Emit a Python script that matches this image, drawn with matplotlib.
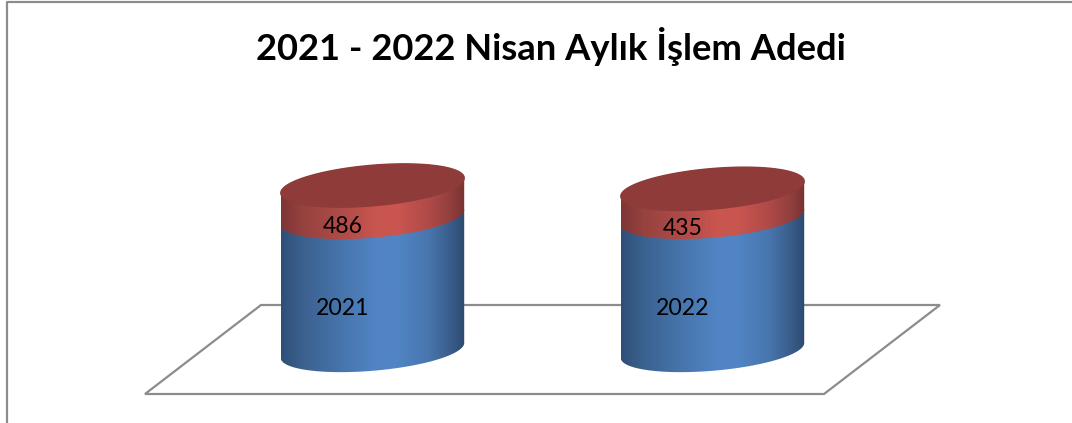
"""2021 - 2022 Nisan aylik islem adedi, silindir grafik."""

import matplotlib

matplotlib.use("Agg")
import matplotlib.pyplot as plt
import numpy as np
from matplotlib.colors import LinearSegmentedColormap
from matplotlib.patches import Polygon

title = "2021 - 2022 Nisan Aylık İşlem Adedi"
years = ["2021", "2022"]
year_values = [2021, 2022]
islem_values = [486, 435]

W, H = 1072, 423
# eksen: x kategori sirasi, y yigilmis deger (taban y=0)
PX_X = 340.0
PX_Y = 165.0 / 2507
X0 = 372.5
Y_BASE = 350.5
RX = 91.7 / PX_X
RY = 20.3 / PX_Y
SKEW = 7.5 / PX_Y

stops = [0.0, 0.12, 0.35, 0.52, 0.64, 0.8, 0.92, 1.0]
blue_cm = LinearSegmentedColormap.from_list(
    "blue", list(zip(stops, ["#2f4f78", "#3b618f", "#4877b0", "#5184c4", "#5184c4", "#4877af", "#3a5e8c", "#2c4a70"]))
)
red_cm = LinearSegmentedColormap.from_list(
    "red", list(zip(stops, ["#7e3635", "#96423f", "#b24c49", "#c9554f", "#c9554f", "#b04b48", "#93403e", "#773231"]))
)

fig = plt.figure(figsize=(W / 100, H / 100), dpi=100)
ax = fig.add_axes([0, 0, 1, 1])
ax.axis("off")

# cerceve
ax.plot([6.5 / W, 6.5 / W, 1.0], [0.0, 1 - 2.5 / H, 1 - 2.5 / H],
        transform=ax.transAxes, color="#8c8c8c", lw=1.6, clip_on=False, zorder=1)

# taban duzlemi
floor_x = np.array([-227.5, -111.5, 567.5, 451.5]) / PX_X
floor_y = np.array([-43.5, 45.5, 45.5, -43.5]) / PX_Y
ax.add_patch(Polygon(np.column_stack([floor_x, floor_y]), closed=True, fill=False,
                     edgecolor="#8c8c8c", lw=1.6, zorder=1))


def ring(cx, y, t):
    return cx + RX * np.cos(t), y + RY * np.sin(t) + SKEW * np.cos(t)


def band(cx, y0, y1, cmap, zorder):
    t = np.linspace(0, np.pi, 80)
    xa, ya = ring(cx, y1, t)
    xb, yb = ring(cx, y0, t + np.pi)
    pts = np.column_stack([np.r_[xa, xb], np.r_[ya, yb]])
    grad = np.linspace(0, 1, 256)[None, :]
    im = ax.imshow(grad, cmap=cmap, extent=[cx - RX, cx + RX, y0 - 2 * RY, y1 + 2 * RY],
                   aspect="auto", zorder=zorder)
    im.set_clip_path(Polygon(pts, closed=True, transform=ax.transData))


def label(x, y, text, dy):
    ax.annotate(text, (x, y), xytext=(-29.5 * 0.72, dy * 0.72), textcoords="offset points",
                ha="center", va="center", fontsize=16.6, family="Lato", color="black", zorder=5)


for i, (year, val, other) in enumerate(zip(years, year_values, islem_values)):
    band(i, 0, val, blue_cm, 2)
    band(i, val, val + other, red_cm, 3)
    xt, yt = ring(i, val + other, np.linspace(0, 2 * np.pi, 200))
    ax.fill(xt, yt, color="#8e3b3a", zorder=4)
    label(i, val / 2, year, -25)
    label(i, val + other / 2, str(other), -25)

ax.set_xlim(-X0 / PX_X, (W - X0) / PX_X)
ax.set_ylim((Y_BASE - H) / PX_Y, Y_BASE / PX_Y)

fig.text(551 / W, 1 - 47 / H, title, ha="center", va="center", fontsize=26.2,
         fontweight="bold", family="Lato", color="black")

fig.savefig("out.png", dpi=100)
plt.close(fig)
